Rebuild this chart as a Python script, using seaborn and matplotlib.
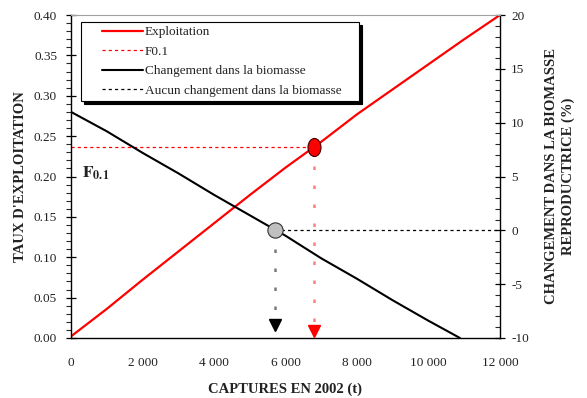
import numpy as np
import pandas as pd
import matplotlib
matplotlib.use("Agg")
import matplotlib.pyplot as plt
import seaborn as sns
from matplotlib.path import Path
from matplotlib.ticker import MultipleLocator, FuncFormatter
from matplotlib.legend_handler import HandlerLine2D

# ---- data ----
catch = [0, 1000, 2000, 3000, 4000, 5000, 6000, 7000, 8000, 9000, 10000, 11000, 12000]
exploitation = [0.002, 0.036, 0.072, 0.107, 0.142, 0.177, 0.211, 0.243, 0.277, 0.308, 0.339, 0.370, 0.400]
catch_bio = [0, 1000, 2000, 3000, 4000, 5000, 6000, 7000, 8000, 9000, 10000, 10880]
biomass_change = [11.0, 9.2, 7.2, 5.3, 3.3, 1.4, -0.5, -2.6, -4.5, -6.5, -8.4, -10.0]

f01_catch = 6800
f01_rate = 0.236
zero_catch = 5700
zero_change = 0.0
arrow_rate = 0.009
arrow_change = -8.8

x_ticks = [0, 2000, 4000, 6000, 8000, 10000, 12000]
legend_labels = ["Exploitation", "F0.1", "Changement dans la biomasse",
                 "Aucun changement dans la biomasse"]

sns.set_style("white")
plt.rcParams["font.family"] = ["Liberation Serif", "DejaVu Serif"]
plt.rcParams["mathtext.fontset"] = "stix"
plt.rcParams["axes.unicode_minus"] = False

df1 = pd.DataFrame({"catch": catch, "rate": exploitation})
df2 = pd.DataFrame({"catch": catch_bio, "change": biomass_change})

fig = plt.figure(figsize=(5.87, 3.98), dpi=100)
ax = fig.add_axes([71 / 587, 1 - 338 / 398, 429 / 587, 323 / 398])
ax2 = ax.twinx()

# left axis
sns.lineplot(data=df1, x="catch", y="rate", ax=ax, color="#ff0000", lw=1.6, label=legend_labels[0])
ax.plot([0, f01_catch], [f01_rate, f01_rate], color="#ff0000", lw=0.9,
        dashes=(2.5, 2.5), label=legend_labels[1])
ax.plot([f01_catch, f01_catch], [f01_rate, arrow_rate], color="#ff7f7f", lw=1.8,
        dashes=(1.4, 6.2), zorder=2)
ell = Path.unit_circle()
ell = Path(ell.vertices * np.array([0.72, 1.0]), ell.codes)
ax.plot([f01_catch], [f01_rate], marker=ell, ms=13, mfc="#ff0000", mec="#400000", mew=0.8, zorder=5)
ax.plot([f01_catch], [arrow_rate], marker="v", ms=8.5, color="#ff0000", zorder=5)

# right axis
sns.lineplot(data=df2, x="catch", y="change", ax=ax2, color="black", lw=1.5, label=legend_labels[2])
ax2.plot([zero_catch, 12000], [zero_change, zero_change], color="black", lw=0.9,
         dashes=(2.5, 2.5), label=legend_labels[3])
ax2.plot([zero_catch, zero_catch], [zero_change, arrow_change], color="#7a7a7a", lw=1.8,
         dashes=(1.4, 6.2), zorder=2)
ax2.plot([zero_catch], [zero_change], marker="o", ms=11, mfc="#c0c0c0", mec="#303030", mew=0.8, zorder=5)
ax2.plot([zero_catch], [arrow_change], marker="v", ms=8.5, color="black", zorder=5)

ax.set_xlim(0, 12000)
ax.set_ylim(0, 0.40)
ax2.set_ylim(-10, 20)

ax.set_xticks(x_ticks)
ax.xaxis.set_minor_locator(MultipleLocator(500))
ax.xaxis.set_major_formatter(FuncFormatter(lambda v, p: f"{int(v):,}".replace(",", " ")))
ax.yaxis.set_major_locator(MultipleLocator(0.05))
ax.yaxis.set_minor_locator(MultipleLocator(0.01))
ax.yaxis.set_major_formatter(FuncFormatter(lambda v, p: f"{v:.2f}"))
ax2.yaxis.set_major_locator(MultipleLocator(5))
ax2.yaxis.set_minor_locator(MultipleLocator(1))

tick_font = 9.5
tick_col = "#222222"
ax.tick_params(axis="x", which="major", direction="inout", length=7, width=0.9, labelsize=tick_font, pad=10)
ax.tick_params(axis="x", which="minor", direction="in", length=3.5, width=0.8)
ax.tick_params(axis="y", which="major", direction="inout", length=7, width=0.9, labelsize=tick_font, pad=6.5)
ax.tick_params(axis="y", which="minor", direction="out", length=3.5, width=0.8)
ax2.tick_params(axis="y", which="major", direction="inout", length=7, width=0.9, labelsize=tick_font, pad=4.5)
ax2.tick_params(axis="y", which="minor", direction="in", length=3.5, width=0.8)
ax.tick_params(colors="black", labelcolor=tick_col)
ax2.tick_params(colors="black", labelcolor=tick_col)

for a in (ax, ax2):
    for s in a.spines.values():
        s.set_visible(False)
ax.spines["left"].set_visible(True)
ax.spines["bottom"].set_visible(True)
ax2.spines["right"].set_visible(True)
ax2.spines["top"].set_visible(True)
ax.spines["left"].set_color("black")
ax.spines["bottom"].set_color("black")
ax2.spines["right"].set_color("black")
ax2.spines["top"].set_color("#a0a0a0")
ax.spines["left"].set_linewidth(1.0)
ax.spines["bottom"].set_linewidth(1.0)
ax2.spines["right"].set_linewidth(1.0)
ax2.spines["top"].set_linewidth(0.8)

lab_font = 10.5
ax.set_xlabel("CAPTURES EN 2002 (t)", fontsize=lab_font, fontweight="bold", labelpad=10, color=tick_col)
ax.set_ylabel("TAUX D'EXPLOITATION", fontsize=lab_font, fontweight="bold", labelpad=5, color=tick_col)
ax2.set_ylabel("CHANGEMENT DANS LA BIOMASSE\nREPRODUCTRICE (%)", fontsize=lab_font, fontweight="bold",
               labelpad=11.5, linespacing=1.35, color=tick_col)

ax.text(300, 0.199, r"$\mathbf{F}_{\mathbf{0.1}}$", fontsize=12.5, ha="left", va="baseline", color=tick_col)

# combined legend
h1, l1 = ax.get_legend_handles_labels()
h2, l2 = ax2.get_legend_handles_labels()
if ax.get_legend():
    ax.get_legend().remove()
if ax2.get_legend():
    ax2.get_legend().remove()
labels = l1 + l2
labels = [lab + "\u00a0" * 4 if lab == legend_labels[3] else lab for lab in labels]
handles = h1 + h2
hmap = {h: HandlerLine2D(xpad=1.33) for h in handles}
leg = ax2.legend(handles, labels, loc="upper left", bbox_to_anchor=(0.023, 0.978),
                 borderaxespad=0, frameon=True, fancybox=False, fontsize=9.5,
                 handlelength=4.4, handletextpad=0.15, labelspacing=0.55, borderpad=0.3,
                 handler_map=hmap, labelcolor=tick_col,
                 shadow={"color": "black", "alpha": 1.0})
leg.get_frame().set_edgecolor("black")
leg.get_frame().set_linewidth(0.8)
leg.set_zorder(10)

fig.savefig("out.png", dpi=100)
